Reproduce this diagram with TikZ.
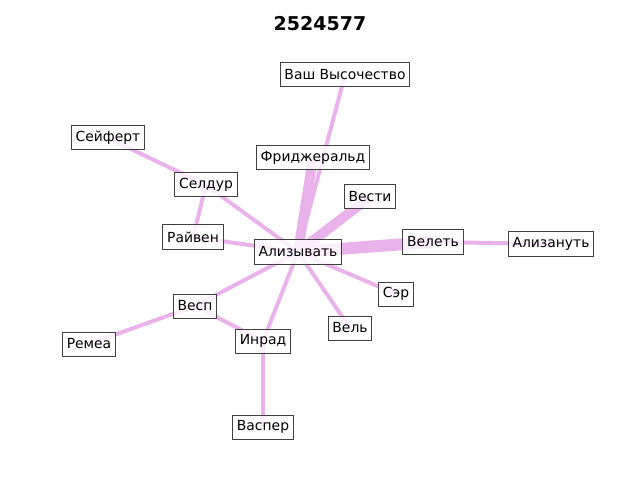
\documentclass[tikz,border=0pt]{standalone}
\usepackage{fontspec}
\setmainfont{DejaVu Sans}
\usetikzlibrary{backgrounds}
\definecolor{edgec}{RGB}{234,178,234}
\definecolor{boxc}{RGB}{64,64,64}
\tikzset{
  lbl/.style={draw=boxc, line width=1bp, fill=white, fill opacity=0.8, text opacity=1,
    font=\fontsize{13.9bp}{16bp}\selectfont, inner xsep=4.4bp, inner ysep=0bp,
    minimum height=24bp, anchor=center},
  thin/.style={draw=edgec, line width=4bp},
  wide/.style={draw=edgec, line width=10bp},
  wider/.style={draw=edgec, line width=12bp},
}
\begin{document}
\begin{tikzpicture}[x=1bp,y=-1bp]
\useasboundingbox (0,0) rectangle (640,480);
\node[font=\fontsize{19bp}{22bp}\selectfont\bfseries] (title) at (320,24) {2524577};
\node[lbl] (vv) at (345,75) {Ваш Высочество};
\node[lbl] (sei) at (108,138) {Сейферт};
\node[lbl] (fri) at (313,158) {Фриджеральд};
\node[lbl] (sel) at (206,185) {Селдур};
\node[lbl] (ves) at (370,197) {Вести};
\node[lbl] (rai) at (193,237) {Райвен};
\node[lbl] (vel) at (433,242) {Велеть};
\node[lbl] (aln) at (551,244) {Ализануть};
\node[lbl] (alz) at (298,252) {Ализывать};
\node[lbl] (ser) at (396,294) {Сэр};
\node[lbl] (vsp) at (195,306) {Весп};
\node[lbl] (vl) at (350,328) {Вель};
\node[lbl] (rem) at (89,344) {Ремеа};
\node[lbl] (inr) at (263,341) {Инрад};
\node[lbl] (vas) at (263,427) {Васпер};
\begin{scope}[on background layer]
\draw[thin] (alz.center) -- (vv.center);
\draw[wide] (alz.center) -- (fri.center);
\draw[wide] (alz.center) -- (ves.center);
\draw[wider] (alz.center) -- (vel.center);
\draw[thin] (vel.center) -- (aln.center);
\draw[thin] (alz.center) -- (sel.center);
\draw[thin] (sel.center) -- (sei.center);
\draw[thin] (sel.center) -- (rai.center);
\draw[thin] (alz.center) -- (rai.center);
\draw[thin] (alz.center) -- (ser.center);
\draw[thin] (alz.center) -- (vl.center);
\draw[thin] (alz.center) -- (vsp.center);
\draw[thin] (alz.center) -- (inr.center);
\draw[thin] (vsp.center) -- (rem.center);
\draw[thin] (vsp.center) -- (inr.center);
\draw[thin] (inr.center) -- (vas.center);
\end{scope}
\end{tikzpicture}
\end{document}
